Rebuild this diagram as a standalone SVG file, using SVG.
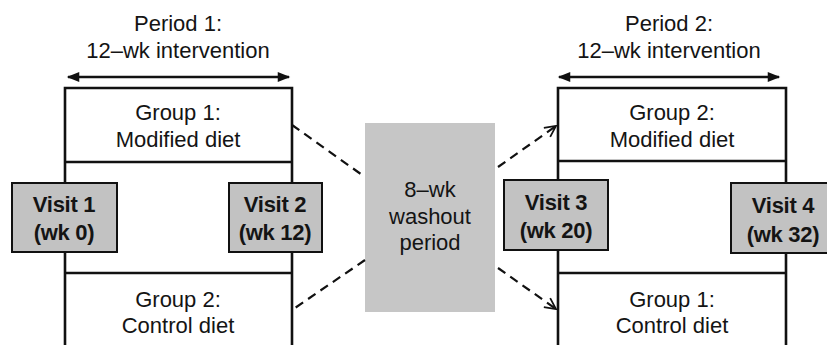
<svg xmlns="http://www.w3.org/2000/svg" width="827" height="345" viewBox="0 0 827 345">
  <style>
    text { font-family: "Liberation Sans", Arial, sans-serif; font-size: 22px; fill: #141414; text-anchor: middle; }
    .b { font-weight: bold; letter-spacing: -0.3px; }
    .frame { fill: none; stroke: #111; stroke-width: 2.6; }
    .visit { fill: #c2c2c2; stroke: #111; stroke-width: 2; }
    .span { stroke: #111; stroke-width: 2.5; marker-start: url(#tri); marker-end: url(#tri); }
    .dash { fill: none; stroke: #111; stroke-width: 2.2; stroke-dasharray: 9 6; }
  </style>
  <defs>
    <marker id="tri" viewBox="0 0 10 10" refX="9" refY="5" markerWidth="6" markerHeight="5" orient="auto-start-reverse" markerUnits="strokeWidth">
      <path d="M0,1 L10,5 L0,9 Z" fill="#111"/>
    </marker>
    <marker id="chev" viewBox="0 0 12 12" refX="11" refY="6" markerWidth="6" markerHeight="6" orient="auto" markerUnits="strokeWidth">
      <path d="M1,1 L11,6 L1,11" fill="none" stroke="#111" stroke-width="1.6"/>
    </marker>
  </defs>
  <rect width="827" height="345" fill="#fff"/>

  <!-- Period 1 -->
  <g id="period1">
    <text x="178" y="31">Period 1:</text>
    <text x="178" y="58">12–wk intervention</text>
    <line class="span" x1="68" y1="77" x2="289" y2="77"/>
    <path class="frame" d="M65,347 V88 H292 V347 M65,162 H292 M65,273 H292"/>
  </g>
  <g id="p1-group1">
    <text x="178" y="120">Group 1:</text>
    <text x="178" y="147">Modified diet</text>
  </g>
  <g id="p1-group2">
    <text x="178" y="307">Group 2:</text>
    <text x="178" y="333">Control diet</text>
  </g>
  <g id="visit1">
    <rect class="visit" x="12" y="183" width="105" height="69"/>
    <text class="b" x="64" y="212">Visit 1</text>
    <text class="b" x="64" y="240">(wk 0)</text>
  </g>
  <g id="visit2">
    <rect class="visit" x="229" y="183" width="93" height="69"/>
    <text class="b" x="275" y="212">Visit 2</text>
    <text class="b" x="275" y="240">(wk 12)</text>
  </g>

  <!-- Washout -->
  <g id="washout">
    <rect x="365" y="123" width="130" height="189" fill="#c6c6c6"/>
    <text x="430" y="197">8–wk</text>
    <text x="430" y="224">washout</text>
    <text x="430" y="250">period</text>
  </g>

  <!-- Period 2 -->
  <g id="period2">
    <text x="669" y="31">Period 2:</text>
    <text x="669" y="58">12–wk intervention</text>
    <line class="span" x1="559" y1="77" x2="779" y2="77"/>
    <path class="frame" d="M558,347 V88 H786 V347 M558,161 H786 M558,273 H786"/>
  </g>
  <g id="p2-group2">
    <text x="672" y="120">Group 2:</text>
    <text x="672" y="147">Modified diet</text>
  </g>
  <g id="p2-group1">
    <text x="672" y="307">Group 1:</text>
    <text x="672" y="333">Control diet</text>
  </g>
  <g id="visit3">
    <rect class="visit" x="504" y="180" width="104" height="70"/>
    <text class="b" x="556" y="210">Visit 3</text>
    <text class="b" x="556" y="238">(wk 20)</text>
  </g>
  <g id="visit4">
    <rect class="visit" x="731" y="183" width="97" height="70"/>
    <text class="b" x="783" y="213">Visit 4</text>
    <text class="b" x="783" y="242">(wk 32)</text>
  </g>

  <!-- Crossover connectors -->
  <g id="connectors">
    <line class="dash" x1="292" y1="125" x2="365" y2="177"/>
    <line class="dash" x1="365" y1="260" x2="292" y2="310"/>
    <line class="dash" x1="498" y1="167" x2="556" y2="126" marker-end="url(#chev)"/>
    <line class="dash" x1="498" y1="268" x2="556" y2="309" marker-end="url(#chev)"/>
  </g>
</svg>
